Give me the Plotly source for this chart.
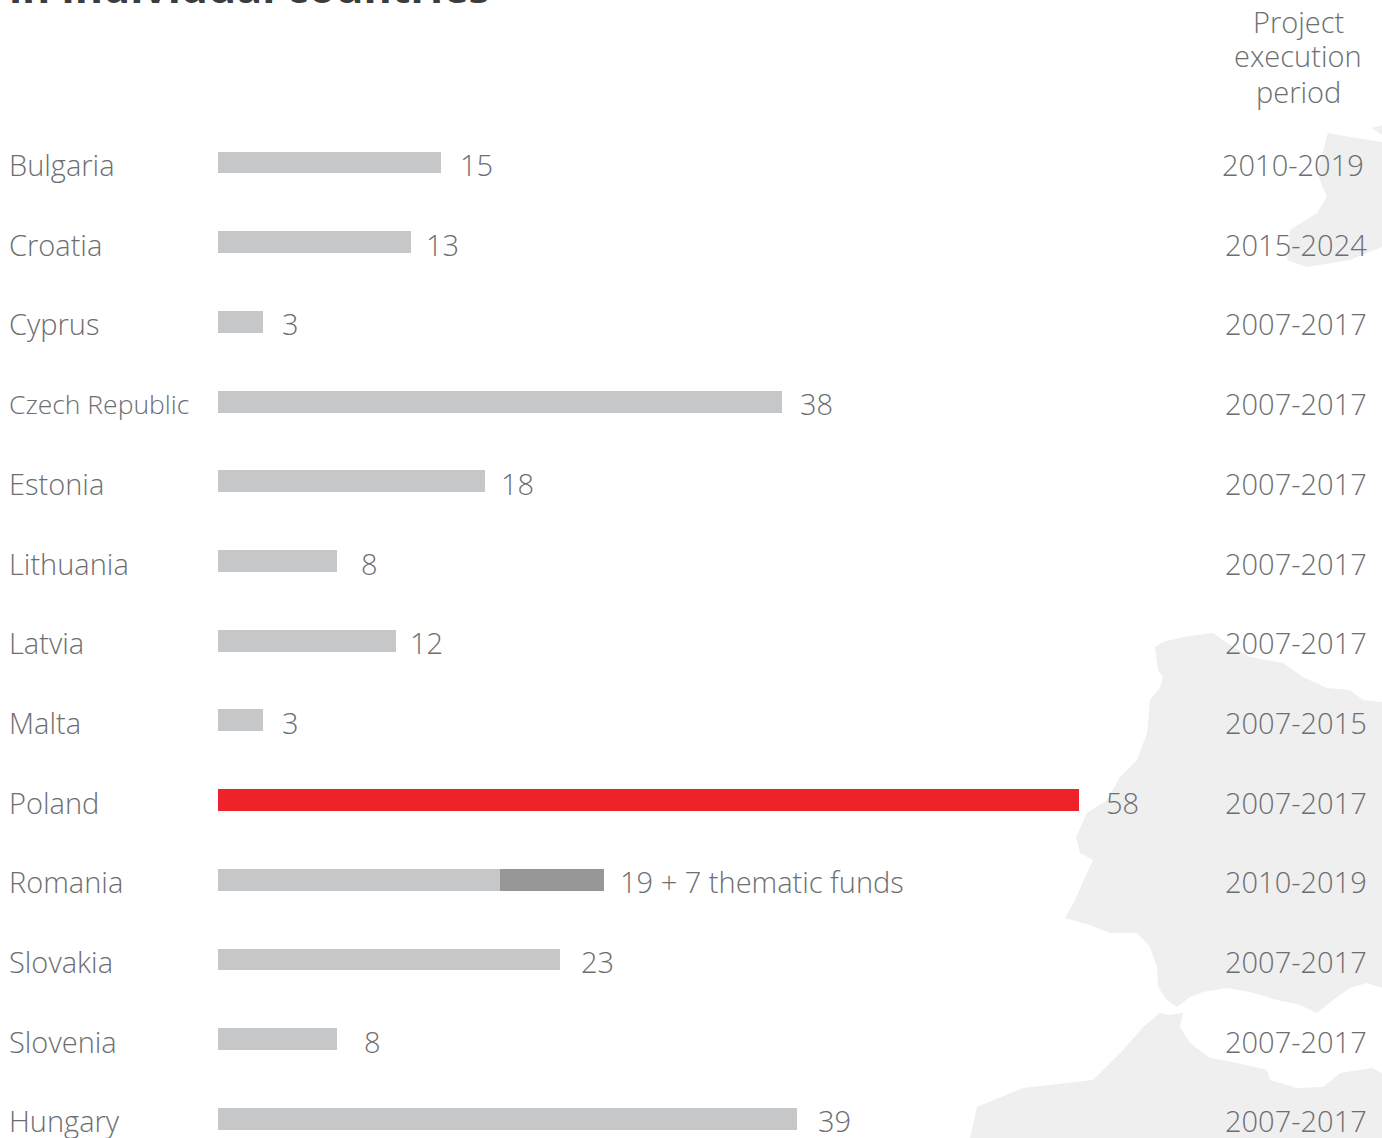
import plotly.graph_objects as go

countries = ["Bulgaria", "Croatia", "Cyprus", "Czech Republic", "Estonia", "Lithuania", "Latvia",
             "Malta", "Poland", "Romania", "Slovakia", "Slovenia", "Hungary"]
base_values = [15, 13, 3, 38, 18, 8, 12, 3, 58, 19, 23, 8, 39]
thematic_funds = [0, 0, 0, 0, 0, 0, 0, 0, 0, 7, 0, 0, 0]
value_labels = ["15", "13", "3", "38", "18", "8", "12", "3", "58", "19 + 7 thematic funds", "23", "8", "39"]
periods = ["2010-2019", "2015-2024", "2007-2017", "2007-2017", "2007-2017", "2007-2017", "2007-2017",
           "2007-2015", "2007-2017", "2010-2019", "2007-2017", "2007-2017", "2007-2017"]
highlight = "Poland"

W, H = 1382, 1138
GREY, DARK, RED, MAP, TEXT = "#c6c7c9", "#979797", "#ee2229", "#efefef", "#6d6e71"
FONT = "Open Sans"
ROW_TOP, ROW_STEP = 162.5, 79.7
# Horizontal text nudges, in pixels, for the labels beside each bar
LABEL_NUDGE = [17, 13, 17, 16, 14, 22, 12, 17, 25, 14, 19, 25, 19]


def path(points):
    return "M" + "L".join(f"{x / W:.4f},{1 - y / H:.4f}" for x, y in points) + "Z"


# Decorative background silhouette (pixel outline, converted to paper space)
iberia = [(1155, 647), (1163, 642), (1183, 637), (1213, 633), (1227, 643), (1250, 657), (1283, 663), (1303, 677),
          (1327, 688), (1350, 690), (1363, 700), (1382, 702), (1382, 988), (1367, 983), (1350, 988), (1333, 1000),
          (1317, 1013), (1300, 1005), (1277, 1000), (1250, 992), (1227, 988), (1203, 992), (1190, 997), (1177, 1007),
          (1167, 1000), (1158, 987), (1157, 967), (1150, 947), (1137, 933), (1110, 933), (1090, 925), (1065, 918),
          (1075, 900), (1085, 877), (1093, 860), (1080, 853), (1076, 837), (1087, 813), (1107, 800), (1120, 777),
          (1137, 760), (1147, 733), (1150, 700), (1160, 688), (1163, 677), (1158, 670)]
africa = [(1160, 1013), (1170, 1015), (1183, 1013), (1180, 1027), (1190, 1043), (1210, 1058), (1233, 1062),
          (1267, 1070), (1270, 1080), (1297, 1088), (1323, 1087), (1340, 1073), (1372, 1068), (1382, 1073),
          (1382, 1138), (970, 1138), (977, 1107), (1023, 1088), (1093, 1080), (1123, 1050), (1143, 1027)]
ireland = [(1328, 133), (1350, 137), (1382, 142), (1382, 247), (1350, 260), (1307, 267), (1287, 260), (1290, 230),
           (1317, 213), (1327, 197), (1317, 173)]
britain_tip = [(1372, 128), (1382, 125), (1382, 135)]
shapes = [dict(type="path", xref="paper", yref="paper", path=path(p), fillcolor=MAP, line_width=0, layer="below")
          for p in (iberia, africa, ireland, britain_tip)]

fig = go.Figure()
fig.add_bar(y=countries, x=base_values, orientation="h", width=0.275,
            marker=dict(color=[RED if c == highlight else GREY for c in countries], line_width=0))
fig.add_bar(y=countries, x=thematic_funds, orientation="h", width=0.275, marker=dict(color=DARK, line_width=0))

notes = []
for i, (c, total, extra, label, period) in enumerate(
        zip(countries, base_values, thematic_funds, value_labels, periods)):
    name_font = dict(size=26.5) if c == "Czech Republic" else {}
    notes.append(dict(x=7 / W, xref="paper", y=c, yref="y", text=c, xanchor="left", yanchor="middle", yshift=-2,
                      showarrow=False, font=name_font))
    notes.append(dict(x=total + extra, xref="x", y=c, yref="y", text=label, xanchor="left", yanchor="middle",
                      yshift=-2, xshift=LABEL_NUDGE[i], showarrow=False))
    notes.append(dict(x=(1364 if i == 0 else 1367) / W + 2 / W, xref="paper", y=c, yref="y", text=period,
                      xanchor="right", yanchor="middle", yshift=-2, showarrow=False))
for line, py in (("Project", 22), ("execution", 55.5), ("period", 92)):
    notes.append(dict(x=1298 / W, xref="paper", y=1 - py / H, yref="paper", text=line, xanchor="center",
                      yanchor="middle", showarrow=False))
notes.append(dict(x=7 / W, xref="paper", y=1 - 18 / H, yref="paper", text="<b>in individual countries</b>",
                  xanchor="left", yanchor="bottom", showarrow=False,
                  font=dict(family=FONT, size=43, color="#3c3c3e", weight=700)))

fig.update_layout(
    width=W, height=H, margin=dict(l=0, r=0, t=0, b=0), barmode="stack", showlegend=False,
    plot_bgcolor="white", paper_bgcolor="white", shapes=shapes, annotations=notes,
    font=dict(family=FONT, size=29, color=TEXT, weight=300),
    xaxis=dict(range=[-218 / 14.85, (W - 218) / 14.85], visible=False, domain=[0, 1]),
    yaxis=dict(type="category", categoryorder="array", categoryarray=countries,
               range=[(H - ROW_TOP) / ROW_STEP, -ROW_TOP / ROW_STEP], visible=False, domain=[0, 1]),
)
fig.write_html("out.html", post_script="document.body.style.margin='0';", config={"displayModeBar": False})
